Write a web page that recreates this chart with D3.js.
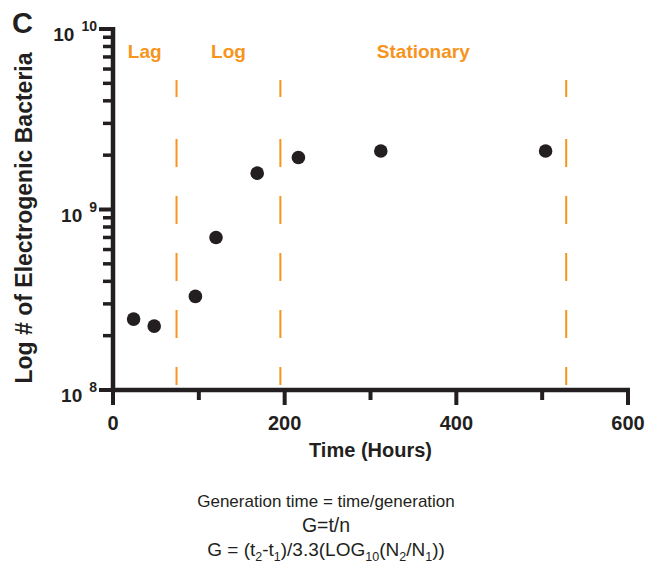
<!DOCTYPE html>
<html>
<head>
<meta charset="utf-8">
<script src="https://cdn.jsdelivr.net/npm/d3@7"></script>
<style>
  body { margin: 0; background: #fff; }
  svg { font-family: "Liberation Sans", Arial, Helvetica, sans-serif; }
</style>
</head>
<body>
<div id="chart"></div>
<script>
// growth curve data (hours vs cell count)
const hours = [24, 48, 96, 120, 168, 216, 312, 504];
const counts = [2.47e8, 2.26e8, 3.3e8, 7.0e8, 1.59e9, 1.94e9, 2.11e9, 2.11e9];

const phaseNames = ['Lag', 'Log', 'Stationary'];
const phaseBounds = [0, 74, 195, 528]; // hours, dashed lines at the inner ones

const xTicks = [0, 200, 400, 600];
const xMinorTicks = [100, 300, 500];
const yTicks = [1e8, 1e9, 1e10];
const yExponents = ['8', '9', '10'];

const formulaLines = ['Generation time = time/generation', 'G=t/n'];

const ink = '#231f20';
const orange = '#f7941d';

const width = 653, height = 569;

const svg = d3.select('#chart')
  .append('svg')
  .attr('width', width)
  .attr('height', height);

const x = d3.scaleLinear().domain([0, 600]).range([113, 628]);
const y = d3.scaleLog().domain([1e8, 1e10]).range([390, 29]);

// minor y ticks: 2..9 in each decade
const yMinor = [];
[1e8, 1e9].forEach((d) => {
  for (let k = 2; k <= 9; k++) yMinor.push(d * k);
});

// dashed phase boundaries
svg.selectAll('.phase-line')
  .data(phaseBounds.slice(1))
  .enter()
  .append('line')
  .attr('class', 'phase-line')
  .attr('x1', (d) => x(d))
  .attr('x2', (d) => x(d))
  .attr('y1', 80)
  .attr('y2', 385)
  .attr('stroke', orange)
  .attr('stroke-width', 2)
  .attr('stroke-dasharray', '17,42,28,29,28,29,28,29,28,29,18');

// phase labels
svg.selectAll('.phase-label')
  .data(phaseNames)
  .enter()
  .append('text')
  .attr('class', 'phase-label')
  .attr('x', (d, i) => x((phaseBounds[i] + phaseBounds[i + 1]) / 2))
  .attr('y', 58)
  .attr('text-anchor', 'middle')
  .attr('font-size', 19)
  .attr('font-weight', 'bold')
  .attr('fill', orange)
  .text((d) => d);

// x ticks
const xBase = y(1e8);
svg.selectAll('.xtick')
  .data(xTicks.map((v) => [v, 15]).concat(xMinorTicks.map((v) => [v, 10])))
  .enter()
  .append('rect')
  .attr('class', 'xtick')
  .attr('x', (d) => x(d[0]) - 2)
  .attr('width', 4)
  .attr('y', xBase)
  .attr('height', (d) => d[1])
  .attr('fill', ink);

svg.selectAll('.xlab')
  .data(xTicks)
  .enter()
  .append('text')
  .attr('class', 'xlab')
  .attr('x', (d) => x(d))
  .attr('y', 430)
  .attr('text-anchor', 'middle')
  .attr('font-size', 20)
  .attr('font-weight', 'bold')
  .attr('fill', ink)
  .text((d) => d);

// y ticks
const yBase = x(0);
svg.selectAll('.ytick')
  .data(yTicks.map((v) => [v, 14, 4]).concat(yMinor.map((v) => [v, 10, 3.5])))
  .enter()
  .append('rect')
  .attr('class', 'ytick')
  .attr('x', (d) => yBase - d[1])
  .attr('width', (d) => d[1])
  .attr('y', (d) => y(d[0]) - d[2] / 2)
  .attr('height', (d) => d[2])
  .attr('fill', ink);

// spines
svg.append('line')
  .attr('x1', x(0)).attr('x2', x(600) + 2)
  .attr('y1', y(1e8)).attr('y2', y(1e8))
  .attr('stroke', ink).attr('stroke-width', 4.5);
svg.append('line')
  .attr('x1', x(0)).attr('x2', x(0))
  .attr('y1', y(1e8) + 2).attr('y2', y(1e10) - 2)
  .attr('stroke', ink).attr('stroke-width', 4.5);

// y tick labels as 10^n
const yLabels = svg.selectAll('.ylab')
  .data(yTicks)
  .enter()
  .append('text')
  .attr('class', 'ylab')
  .attr('x', 97)
  .attr('y', (d) => y(d) + 12)
  .attr('text-anchor', 'end')
  .attr('font-weight', 'bold')
  .attr('fill', ink);
yLabels.append('tspan')
  .attr('font-size', 19)
  .text('10');
yLabels.append('tspan')
  .attr('dx', 7)
  .attr('dy', -10)
  .attr('font-size', 14)
  .text((d, i) => yExponents[i]);

// points
svg.selectAll('.dot')
  .data(hours)
  .enter()
  .append('circle')
  .attr('class', 'dot')
  .attr('cx', (d) => x(d))
  .attr('cy', (d, i) => y(counts[i]))
  .attr('r', 6.8)
  .attr('fill', ink);

// axis titles
svg.append('text')
  .attr('x', x(300))
  .attr('y', 457)
  .attr('text-anchor', 'middle')
  .attr('font-size', 20)
  .attr('font-weight', 'bold')
  .attr('fill', ink)
  .text('Time (Hours)');

svg.append('text')
  .attr('transform', 'translate(32,218) rotate(-90)')
  .attr('text-anchor', 'middle')
  .attr('font-size', 23)
  .attr('font-weight', 'bold')
  .attr('fill', ink)
  .text('Log # of Electrogenic Bacteria');

// panel letter
svg.append('text')
  .attr('x', 12)
  .attr('y', 33)
  .attr('font-size', 29)
  .attr('font-weight', 'bold')
  .attr('fill', ink)
  .text('C');

// formula block
const cx = 326;
const lineSizes = [17, 19.5];
svg.selectAll('.formula')
  .data(formulaLines)
  .enter()
  .append('text')
  .attr('class', 'formula')
  .attr('x', cx)
  .attr('y', (d, i) => 507 + i * 25)
  .attr('text-anchor', 'middle')
  .attr('font-size', (d, i) => lineSizes[i])
  .attr('fill', ink)
  .text((d) => d);

const f3 = svg.append('text')
  .attr('x', cx)
  .attr('y', 556)
  .attr('text-anchor', 'middle')
  .attr('font-size', 19)
  .attr('fill', ink);
const parts = [
  ['G = (t', false], ['2', true], ['-t', false], ['1', true], [')/3.3(LOG', false],
  ['10', true], ['(N', false], ['2', true], ['/N', false], ['1', true], ['))', false]
];
let wasSub = false;
parts.forEach(([t, sub]) => {
  const ts = f3.append('tspan').text(t);
  if (sub) {
    ts.attr('font-size', 12.5).attr('dy', wasSub ? 0 : 5);
  } else {
    ts.attr('dy', wasSub ? -5 : 0);
  }
  wasSub = sub;
});
</script>
</body>
</html>
